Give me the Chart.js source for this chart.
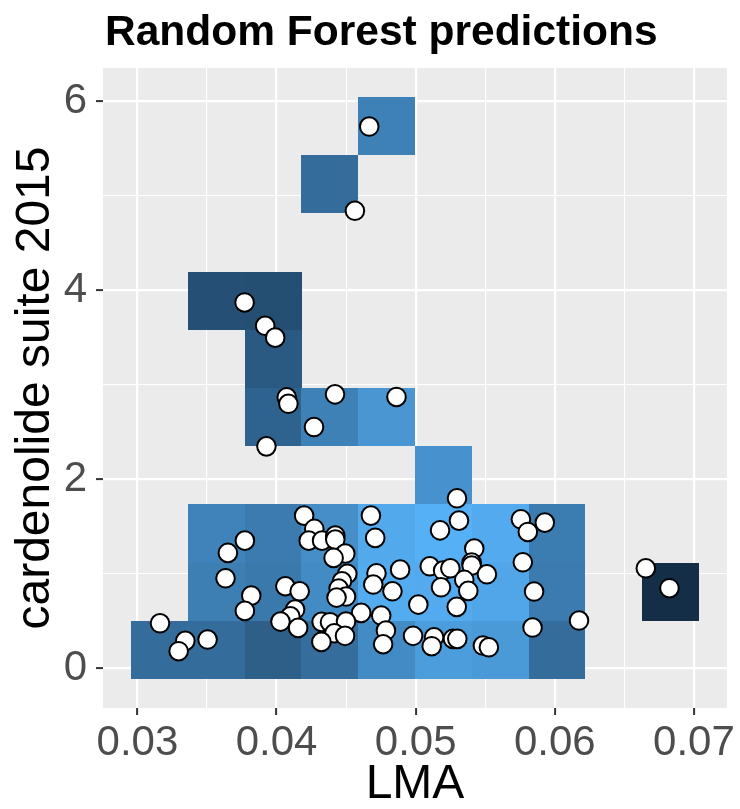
<!DOCTYPE html>
<html>
<head>
<meta charset="utf-8">
<script src="https://cdn.jsdelivr.net/npm/chart.js@4"></script>
<style>
  html, body { margin: 0; padding: 0; background: #fff; }
  #wrap { width: 740px; height: 809px; }
</style>
</head>
<body>
<div id="wrap"><canvas id="grafico" width="740" height="809"></canvas></div>
<script>
// observed plants
const lma = [
  0.04666, 0.04563, 0.03770, 0.03918, 0.03990, 0.04073, 0.04085, 0.04420, 0.04862, 0.04269, 0.03927,
  0.04198, 0.04271, 0.04231, 0.04327, 0.04422, 0.04422, 0.04494, 0.04410, 0.03772, 0.03650,
  0.03633, 0.03818, 0.03772, 0.03162, 0.03344, 0.03296, 0.03504, 0.04063, 0.04166, 0.04133,
  0.04099, 0.04028, 0.04155, 0.04508, 0.04470, 0.04446, 0.04499, 0.04431, 0.04608, 0.04324,
  0.04384, 0.04499, 0.04415, 0.04492, 0.04322, 0.04678, 0.04709, 0.04718, 0.04695, 0.04888,
  0.04833, 0.04752, 0.04786, 0.04766, 0.05019, 0.04981,
  0.05297, 0.05311, 0.05175, 0.05756, 0.05928, 0.05806, 0.05421, 0.05770, 0.05101, 0.05197,
  0.05249, 0.05402, 0.05402, 0.05512, 0.05349, 0.05182, 0.05378, 0.05851, 0.05295, 0.06654,
  0.06824, 0.06174, 0.05840, 0.05132, 0.05115, 0.05268, 0.05299, 0.05483, 0.05526
];
const cardenolide = [
  5.735, 4.843, 3.873, 3.626, 3.500, 2.868, 2.800, 2.900, 2.872, 2.554, 2.349,
  1.616, 1.475, 1.351, 1.351, 1.404, 1.362, 1.214, 1.168, 1.351, 1.221,
  0.952, 0.769, 0.607, 0.476, 0.290, 0.180, 0.304, 0.868, 0.815, 0.621,
  0.550, 0.494, 0.427, 0.999, 0.921, 0.843, 0.759, 0.748, 0.586, 0.491,
  0.487, 0.494, 0.370, 0.343, 0.279, 1.616, 1.380, 1.005, 0.886, 1.044,
  0.815, 0.558, 0.399, 0.254, 0.674, 0.343,
  1.799, 1.563, 1.460, 1.577, 1.542, 1.443, 1.267, 1.122, 1.079, 1.034,
  1.058, 1.118, 1.087, 0.995, 0.935, 0.857, 0.819, 0.812, 0.650, 1.058,
  0.847, 0.505, 0.431, 0.328, 0.233, 0.311, 0.311, 0.240, 0.222
];

// prediction grid (bin centres)
const gridLma = [0.0316, 0.03568, 0.03976, 0.04383, 0.04791, 0.05199, 0.05607, 0.06015, 0.06422, 0.0683];
const gridCard = [0.195, 0.811, 1.427, 2.043, 2.659, 3.275, 3.891, 4.507, 5.123, 5.739];

// tiles: bin index in LMA, bin index in cardenolide, scaled prediction
const tileLmaBin  = [0, 1, 2, 3, 4, 5, 6, 7,   1, 2, 3, 4, 5, 6, 7, 9,   1, 2, 3, 4, 5, 6, 7,   5,   2, 3, 4,   2,   1, 2,   3,   4];
const tileCardBin = [0, 0, 0, 0, 0, 0, 0, 0,   1, 1, 1, 1, 1, 1, 1, 1,   2, 2, 2, 2, 2, 2, 2,   3,   4, 4, 4,   5,   6, 6,   8,   9];
const tilePred    = [0.49, 0.49, 0.39, 0.50, 0.72, 0.85, 0.83, 0.49,
                     0.62, 0.58, 0.72, 0.96, 0.95, 0.92, 0.60, 0.02,
                     0.66, 0.60, 0.74, 0.94, 0.99, 0.95, 0.61,
                     0.77,
                     0.42, 0.64, 0.80,
                     0.35,
                     0.27, 0.26,
                     0.49,
                     0.64];

const xTicks = [0.03, 0.04, 0.05, 0.06, 0.07];
const xTickLabels = ['0.03', '0.04', '0.05', '0.06', '0.07'];
const xMinor = [0.035, 0.045, 0.055, 0.065];
const yTicks = [0, 2, 4, 6];
const yTickLabels = ['0', '2', '4', '6'];
const yMinor = [1, 3, 5];

const corBaixa = [19, 43, 67];    // #132B43
const corAlta = [86, 177, 247];   // #56B1F7
function corGradiente(t) {
  const c = corBaixa.map((v, i) => Math.round(v + (corAlta[i] - v) * t));
  return 'rgb(' + c.join(',') + ')';
}

const meioX = (gridLma[gridLma.length - 1] - gridLma[0]) / (gridLma.length - 1) / 2;
const meioY = (gridCard[gridCard.length - 1] - gridCard[0]) / (gridCard.length - 1) / 2;
const xLo = gridLma[0] - meioX, xHi = gridLma[gridLma.length - 1] + meioX;
const yLo = gridCard[0] - meioY, yHi = gridCard[gridCard.length - 1] + meioY;
const expX = (xHi - xLo) * 0.05, expY = (yHi - yLo) * 0.05;

function acha(lista, v) {
  return lista.findIndex(t => Math.abs(t - v) < 1e-9);
}

const fundoPainel = {
  id: 'fundoPainel',
  beforeDraw(chart) {
    const {ctx, chartArea: a} = chart;
    ctx.save();
    ctx.fillStyle = '#EBEBEB';
    ctx.fillRect(a.left, a.top, a.right - a.left, a.bottom - a.top);
    ctx.restore();
  }
};

const ladrilhos = {
  id: 'ladrilhos',
  beforeDatasetsDraw(chart) {
    const {ctx, scales: {x, y}} = chart;
    ctx.save();
    for (let k = 0; k < tilePred.length; k++) {
      const cx = gridLma[tileLmaBin[k]], cy = gridCard[tileCardBin[k]];
      const l = Math.round(x.getPixelForValue(cx - meioX));
      const r = Math.round(x.getPixelForValue(cx + meioX));
      const t = Math.round(y.getPixelForValue(cy + meioY));
      const b = Math.round(y.getPixelForValue(cy - meioY));
      ctx.fillStyle = corGradiente(tilePred[k]);
      ctx.fillRect(l, t, r - l, b - t);
    }
    ctx.restore();
  }
};

const titulo = {
  id: 'titulo',
  afterDraw(chart) {
    const ctx = chart.ctx;
    ctx.save();
    ctx.font = 'bold 42.5px "Liberation Sans"';
    ctx.fillStyle = '#000';
    ctx.textBaseline = 'alphabetic';
    ctx.textAlign = 'left';
    ctx.fillText('Random Forest predictions', chart.chartArea.left + 2, 45);
    ctx.restore();
  }
};

let ctx = document.getElementById('grafico').getContext('2d');

let grafico = new Chart(ctx, {
  type: 'scatter',
  data: {
    datasets: [{
      data: lma.map((v, i) => ({x: v, y: cardenolide[i]})),
      pointRadius: 9.3,
      pointHoverRadius: 9.3,
      backgroundColor: '#FFFFFF',
      borderColor: '#000000',
      borderWidth: 2
    }]
  },
  options: {
    responsive: false,
    animation: false,
    layout: { padding: { top: 68, right: 13, left: 0, bottom: 0 } },
    plugins: {
      legend: { display: false },
      tooltip: { enabled: false }
    },
    scales: {
      x: {
        type: 'linear',
        min: xLo - expX,
        max: xHi + expX,
        afterBuildTicks: axis => {
          axis.ticks = xTicks.concat(xMinor).sort((a, b) => a - b).map(v => ({value: v}));
        },
        afterFit: axis => { axis.height = 101; },
        border: { display: false },
        grid: {
          color: '#FFFFFF',
          lineWidth: c => acha(xTicks, c.tick.value) >= 0 ? 2.2 : 1.1,
          tickColor: c => acha(xTicks, c.tick.value) >= 0 ? '#333333' : 'rgba(0,0,0,0)',
          tickWidth: 2,
          tickLength: 7
        },
        ticks: {
          autoSkip: false,
          maxRotation: 0,
          padding: 3,
          color: '#4D4D4D',
          font: { family: '"Liberation Sans"', size: 42 },
          callback: v => { const i = acha(xTicks, v); return i >= 0 ? xTickLabels[i] : ''; }
        },
        title: {
          display: true,
          text: 'LMA',
          color: '#000000',
          font: { family: '"Liberation Sans"', size: 48, lineHeight: 1 },
          padding: { top: 0, bottom: 0 }
        }
      },
      y: {
        type: 'linear',
        min: yLo - expY,
        max: yHi + expY,
        afterBuildTicks: axis => {
          axis.ticks = yTicks.concat(yMinor).sort((a, b) => a - b).map(v => ({value: v}));
        },
        afterFit: axis => { axis.width = 103; },
        border: { display: false },
        grid: {
          color: '#FFFFFF',
          lineWidth: c => acha(yTicks, c.tick.value) >= 0 ? 2.2 : 1.1,
          tickColor: c => acha(yTicks, c.tick.value) >= 0 ? '#333333' : 'rgba(0,0,0,0)',
          tickWidth: 2,
          tickLength: 7
        },
        ticks: {
          autoSkip: false,
          padding: 9,
          color: '#4D4D4D',
          font: { family: '"Liberation Sans"', size: 42 },
          callback: v => { const i = acha(yTicks, v); return i >= 0 ? yTickLabels[i] : ''; }
        },
        title: {
          display: true,
          text: 'cardenolide suite 2015',
          color: '#000000',
          font: { family: '"Liberation Sans"', size: 48, lineHeight: 1.2 },
          padding: { top: 7, bottom: 0 }
        }
      }
    }
  },
  plugins: [fundoPainel, ladrilhos, titulo]
});
</script>
</body>
</html>
